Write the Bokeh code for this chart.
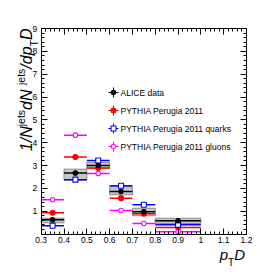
import numpy as np
from bokeh.plotting import figure
from bokeh.models import Range1d, LinearAxis, FixedTicker, Label, ColumnDataSource
from bokeh.embed import file_html
from bokeh.resources import INLINE

# ---------------- data ----------------
bin_lo = [0.3, 0.4, 0.5, 0.6, 0.7, 0.8]
bin_hi = [0.4, 0.5, 0.6, 0.7, 0.8, 1.0]
alice = [0.62, 2.67, 3.00, 1.86, 0.97, 0.58]
alice_sys_lo = [0.49, 2.36, 2.86, 1.72, 0.80, 0.46]
alice_sys_hi = [0.69, 2.84, 3.14, 2.07, 1.13, 0.69]
pythia = [0.93, 3.37, 2.89, 1.57, 0.89, 0.29]
quarks = [0.36, 2.38, 3.22, 2.11, 1.28, 0.40]
gluons = [1.50, 4.33, 2.65, 1.03, 0.46, 0.10]

series_names = ["ALICE data", "PYTHIA Perugia 2011", "PYTHIA Perugia 2011 quarks",
                "PYTHIA Perugia 2011 gluons"]
x_ticks = [0.3, 0.4, 0.5, 0.6, 0.7, 0.8, 0.9, 1.0, 1.1, 1.2]
x_tick_labels = ["0.3", "0.4", "0.5", "0.6", "0.7", "0.8", "0.9", "1", "1.1", "1.2"]
y_ticks = [1, 2, 3, 4, 5, 6, 7, 8, 9]
y_tick_labels = ["1", "2", "3", "4", "5", "6", "7", "8", "9"]

# ---------------- layout ----------------
W, H = 274, 274
XMIN, XMAX, YMIN, YMAX = 0.3, 1.2, 0.0, 9.0
# pad (ROOT-like) frame inside the canvas, in pixels
FX0, FX1, FY0, FY1 = 40.7, 246.0, 28.0, 233.5
FONT = "Liberation Sans"

sx = (XMAX - XMIN) / (FX1 - FX0)
sy = (YMAX - YMIN) / (FY1 - FY0)
x_range = Range1d(XMIN - FX0 * sx, XMAX + (W - FX1) * sx)
y_range = Range1d(YMIN - (H - FY1) * sy, YMAX + FY0 * sy)

p = figure(width=W, height=H, output_backend="svg", toolbar_location=None,
           x_range=x_range, y_range=y_range,
           min_border_left=0, min_border_right=0, min_border_top=0, min_border_bottom=0,
           x_axis_location=None, y_axis_location=None)
p.title.visible = False
p.extra_x_ranges = {"px": Range1d(0, W)}
p.extra_y_ranges = {"px": Range1d(H, 0)}
p.grid.visible = False
p.outline_line_color = None
p.background_fill_color = "white"
p.border_fill_color = "white"

xminor = [round(0.3 + 0.02 * i, 2) for i in range(46)]
yminor = [round(0.2 * i, 1) for i in range(46)]


def mk_axis(loc, ticks, minor, labels, show, fixed, bounds):
    ax = LinearAxis(ticker=FixedTicker(ticks=ticks, minor_ticks=minor),
                    fixed_location=fixed, bounds=bounds)
    ax.major_tick_in = 6
    ax.major_tick_out = 0
    ax.minor_tick_in = 3
    ax.minor_tick_out = 0
    ax.axis_line_color = "black"
    ax.major_tick_line_color = "black"
    ax.minor_tick_line_color = "black"
    if show:
        ax.major_label_overrides = {t: l for t, l in zip(ticks, labels)}
        ax.major_label_text_font = FONT
        ax.major_label_text_font_size = "8.5px"
        ax.major_label_text_color = "black"
    else:
        ax.major_label_overrides = {t: "" for t in ticks}
        ax.major_label_text_font_size = "0px"
        ax.major_label_standoff = 0
    p.add_layout(ax, loc)
    return ax


bx = mk_axis("below", x_ticks, xminor, x_tick_labels, True, YMIN, (XMIN, XMAX))
bx.major_label_standoff = 3
ly = mk_axis("left", y_ticks, yminor, y_tick_labels, True, XMIN, (YMIN, YMAX))
ly.major_label_standoff = 4
mk_axis("above", x_ticks, xminor, x_tick_labels, False, YMAX, (XMIN, XMAX))
mk_axis("right", y_ticks, yminor, y_tick_labels, False, XMAX, (YMIN, YMAX))

# ---------------- glyphs ----------------
xc = [(a + b) / 2 for a, b in zip(bin_lo, bin_hi)]

sys_src = ColumnDataSource(dict(l=bin_lo, r=bin_hi, b=alice_sys_lo, t=alice_sys_hi))
p.quad(left="l", right="r", bottom="b", top="t", source=sys_src,
       fill_color="#c8c8c8", line_color="#8c8c8c", line_width=1)

styles = [
    dict(vals=alice, color="black", marker="circle", fill="black", size=4.5),
    dict(vals=pythia, color="#ff0000", marker="circle", fill="#ff0000", size=5),
    dict(vals=quarks, color="#0000ff", marker="square", fill="white", size=5),
    dict(vals=gluons, color="#ff00ff", marker="circle", fill="white", size=4.5),
]
draw_order = [1, 2, 3, 0]
for i in draw_order:
    st = styles[i]
    src = ColumnDataSource(dict(x0=bin_lo, x1=bin_hi, xc=xc, y=st["vals"]))
    p.segment(x0="x0", x1="x1", y0="y", y1="y", source=src,
              line_color=st["color"], line_width=1.5)
    p.scatter(x="xc", y="y", source=src, marker=st["marker"], size=st["size"],
              line_color=st["color"], fill_color=st["fill"], line_width=1.1)

# ---------------- legend (positions in canvas pixels) ----------------
leg_rows = [92, 110, 128, 146]
leg_mx, leg_tx = 113, 120
for st, name, row in zip(styles, series_names, leg_rows):
    lsrc = ColumnDataSource(dict(x=[leg_mx], y=[row]))
    p.scatter(x="x", y="y", source=lsrc, marker="cross", size=10,
              line_color=st["color"], line_width=1,
              x_range_name="px", y_range_name="px")
    p.scatter(x="x", y="y", source=lsrc, marker=st["marker"], size=st["size"],
              line_color=st["color"], fill_color=st["fill"], line_width=1.1,
              x_range_name="px", y_range_name="px")
    p.add_layout(Label(x=leg_tx, y=row, text=name, x_range_name="px",
                       y_range_name="px", text_font=FONT, text_font_size="8.5px",
                       text_baseline="middle", text_align="left", text_color="black"))

# ---------------- axis titles ----------------
CW = {'1': .556, '/': .278, 'N': .722, ' ': .278, 'd': .556, 'p': .556, 'D': .722,
      'j': .222, 'e': .556, 't': .278, 's': .5, 'T': .611}


def tw(s, fs):
    return sum(CW[c] for c in s) * fs


ypieces = [("1/N", 16, "italic", 0), ("jets", 10.5, "normal", -5.5),
           (" dN", 16, "italic", 0), ("jets", 10.5, "normal", -5.5),
           ("/dp", 16, "italic", 0), ("T", 10.5, "normal", 7.5), ("D", 16, "italic", 0)]
ybase_x = 25.5
total = sum(tw(t, s) for t, s, _, _ in ypieces)
cur = FY0 + total
for t, s, sty, off in ypieces:
    p.add_layout(Label(x=ybase_x + off, y=cur, text=t, angle=np.pi / 2,
                       x_range_name="px", y_range_name="px", text_font=FONT,
                       text_font_size=f"{s}px", text_font_style=sty,
                       text_align="left", text_baseline="alphabetic", text_color="black"))
    cur -= tw(t, s)

xpieces = [("p", 15, "italic", 0), ("T", 10, "normal", 7.7), ("D", 15, "italic", 0)]
xbase_y = 254.3
cx = 244.5 - sum(tw(t, s) for t, s, _, _ in xpieces)
for t, s, sty, off in xpieces:
    p.add_layout(Label(x=cx, y=xbase_y + off, text=t,
                       x_range_name="px", y_range_name="px", text_font=FONT,
                       text_font_size=f"{s}px", text_font_style=sty,
                       text_align="left", text_baseline="alphabetic", text_color="black"))
    cx += tw(t, s)

open("out.html", "w").write(file_html(p, INLINE))
